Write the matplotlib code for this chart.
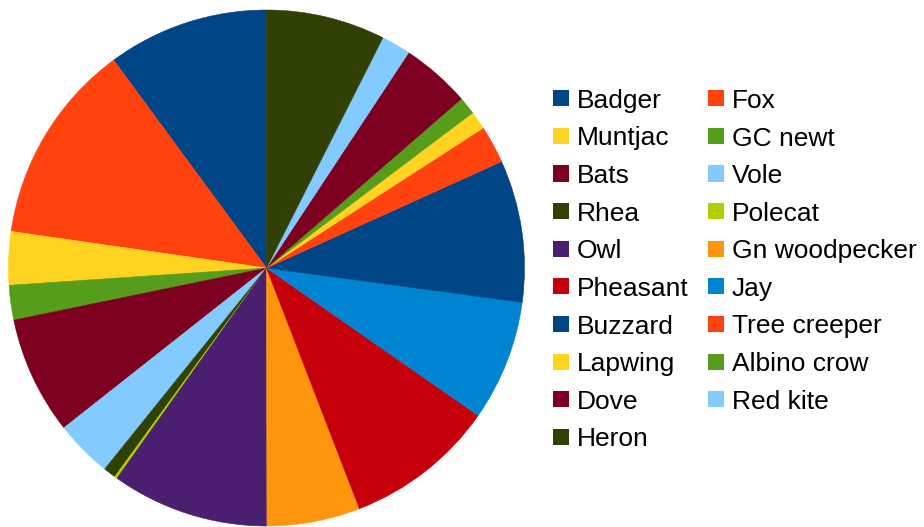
import matplotlib
matplotlib.use("Agg")
import matplotlib.pyplot as plt
from matplotlib.patches import Rectangle

plt.rcParams['font.family'] = ['Liberation Sans', 'DejaVu Sans']

# ---- data (slice sizes in degrees) ----
animals = ['Badger', 'Fox', 'Muntjac', 'GC newt', 'Bats', 'Vole', 'Rhea',
           'Polecat', 'Owl', 'Gn woodpecker', 'Pheasant', 'Jay', 'Buzzard',
           'Tree creeper', 'Lapwing', 'Albino crow', 'Dove', 'Red kite', 'Heron']
counts = [36.3, 45.5, 12.0, 7.8, 26.6, 12.9, 2.8,
          0.6, 35.5, 21.0, 34.0, 27.2, 32.0,
          8.5, 4.1, 4.0, 15.6, 6.6, 26.8]

palette = ['#004586', '#ff420e', '#ffd320', '#579d1c', '#7e0021', '#83caff',
           '#314004', '#aecf00', '#4b1f6f', '#ff950e', '#c5000b', '#0084d1']
colors = [palette[i % len(palette)] for i in range(len(animals))]

W, H = 924, 527
fig = plt.figure(figsize=(W / 100, H / 100), dpi=100)

# pie: centre (266.5, 268) px, radius 258 px
cx, cy, r = 266.5, 268, 258
ax = fig.add_axes([(cx - r) / W, (H - cy - r) / H, 2 * r / W, 2 * r / H])
wedges, _ = ax.pie(counts, colors=colors, startangle=90, counterclock=True,
                   radius=1, wedgeprops=dict(linewidth=0.4))
for w, c in zip(wedges, colors):
    w.set_edgecolor(c)
ax.set_xlim(-1, 1)
ax.set_ylim(-1, 1)
ax.set_aspect('equal')
ax.axis('off')

# legend, filled row by row in two columns
col_x = [553, 708]
row0, pitch = 98.3, 37.6
box = 16
for i, (name, c) in enumerate(zip(animals, colors)):
    row, col = divmod(i, 2)
    x = col_x[col]
    y = row0 + row * pitch
    fig.patches.append(Rectangle((x / W, (H - y - box / 2) / H), box / W, box / H,
                                 transform=fig.transFigure, facecolor=c,
                                 edgecolor='none'))
    fig.text((x + 24) / W, (H - y - 9.6) / H, name, fontsize=19,
             color='#000000', va='baseline', ha='left')

fig.savefig('out.png', dpi=100)
